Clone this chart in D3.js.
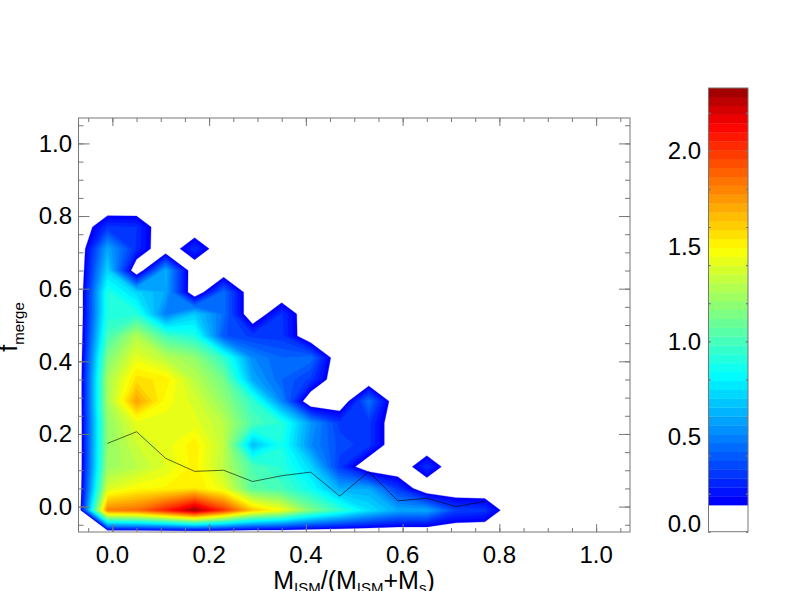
<!DOCTYPE html>
<html><head><meta charset="utf-8">
<script src="https://cdn.jsdelivr.net/npm/d3@7"></script>
<style>
html,body{margin:0;padding:0;background:#fff;overflow:hidden}
svg{display:block}
text{font-family:"Liberation Sans",Arial,sans-serif;fill:#000}
</style></head><body>
<svg id="c" width="786" height="591"></svg>
<script>
// grid of the density map: rows run from y=-0.07 upward, columns from x=-0.07 rightward, step 0.06
const gridX = [-0.07,-0.01,0.05,0.11,0.17,0.23,0.29,0.35,0.41,0.47,0.53,0.59,0.65,0.71,0.77,0.83,0.89,0.95,1.01,1.07];
const gridY = [-0.07,-0.01,0.05,0.11,0.17,0.23,0.29,0.35,0.41,0.47,0.53,0.59,0.65,0.71,0.77,0.83,0.89,0.95,1.01,1.07];
const density = [
[0,0,0,0,0,0,0,0,0,0,0,0,0,0,0,0,0,0,0,0],
[0,1.8,1.85,2.05,2.32,2.0,1.62,1.45,1.15,0.95,0.75,0.6,0.6,0.33,0.3,0,0,0,0,0],
[0,1.38,1.48,1.5,1.54,1.42,1.05,1.0,0.85,0.6,0.6,0.3,0,0,0,0,0,0,0,0],
[0,1.22,1.3,1.4,1.51,1.3,1.02,0.92,0.72,0.3,0,0,0.28,0,0,0,0,0,0,0],
[0,1.2,1.35,1.42,1.52,1.32,0.65,0.88,0.52,0.35,0.3,0,0,0,0,0,0,0,0,0],
[0,1.2,1.42,1.42,1.42,1.3,1.02,0.92,0.56,0.31,0.3,0,0,0,0,0,0,0,0,0],
[0,1.25,1.72,1.47,1.38,1.2,0.95,0.51,0,0,0.46,0,0,0,0,0,0,0,0,0],
[0,1.25,1.56,1.52,1.3,1.12,0.6,0.42,0.31,0,0,0,0,0,0,0,0,0,0,0],
[0,1.15,1.42,1.3,1.2,0.95,0.52,0.42,0.45,0,0,0,0,0,0,0,0,0,0,0],
[0,1.0,1.28,1.0,0.9,0.38,0.31,0.3,0,0,0,0,0,0,0,0,0,0,0,0],
[0,0.9,0.92,0.48,0.69,0.45,0,0.29,0,0,0,0,0,0,0,0,0,0,0,0],
[0,0.9,0.72,0.6,0,0.45,0,0,0,0,0,0,0,0,0,0,0,0,0,0],
[0,0.72,0,0.62,0,0,0,0,0,0,0,0,0,0,0,0,0,0,0,0],
[0,0.6,0.27,0,0.28,0,0,0,0,0,0,0,0,0,0,0,0,0,0,0],
[0,0.29,0.28,0,0,0,0,0,0,0,0,0,0,0,0,0,0,0,0,0],
[0,0,0,0,0,0,0,0,0,0,0,0,0,0,0,0,0,0,0,0],
[0,0,0,0,0,0,0,0,0,0,0,0,0,0,0,0,0,0,0,0],
[0,0,0,0,0,0,0,0,0,0,0,0,0,0,0,0,0,0,0,0],
[0,0,0,0,0,0,0,0,0,0,0,0,0,0,0,0,0,0,0,0],
[0,0,0,0,0,0,0,0,0,0,0,0,0,0,0,0,0,0,0,0]
];
// median line
const medianX = [-0.01,0.05,0.11,0.17,0.23,0.29,0.35,0.41,0.47,0.53,0.59,0.65,0.71,0.77];
const medianY = [0.174,0.206,0.133,0.097,0.1,0.069,0.085,0.095,0.029,0.096,0.016,0.023,0.0,0.014];
const axisTicks = [0,0.2,0.4,0.6,0.8,1.0];
const minorTicks = [-0.05,0,0.05,0.1,0.15,0.2,0.25,0.3,0.35,0.4,0.45,0.5,0.55,0.6,0.65,0.7,0.75,0.8,0.85,0.9,0.95,1.0,1.05];
const barTicks = [0,0.5,1.0,1.5,2.0];
const barMinor = [0,0.2,0.4,0.6,0.8,1.0,1.2,1.4,1.6,1.8,2.0,2.2];
const colorStops = [0.14,0.8,1.46,2.11,2.33];
const colorValues = ["#0000ff","#00ffff","#ffff00","#ff0000","#8c0000"];
const nLevels = 50, zMax = 2.33, firstLevel = 3;

const svg = d3.select("#c");
const L=78.5,R=630,T=118,B=532;
const x = d3.scaleLinear([-0.07,1.07],[L,R]);
const y = d3.scaleLinear([-0.07,1.07],[B,T]);
const col = d3.scaleLinear(colorStops,colorValues).clamp(true);
const levels = d3.range(firstLevel,nLevels).map(i=>i*zMax/nLevels);
const flat = density.flat();
const contours = d3.contours().size([gridX.length,gridY.length]).thresholds(levels)(flat);
const dx = gridX[1]-gridX[0];
const proj = d3.geoTransform({point(px,py){
  this.stream.point(x(gridX[0]+(px-0.5)*dx), y(gridY[0]+(py-0.5)*dx));
}});
const path = d3.geoPath(proj);
svg.append("g").selectAll("path").data(contours).join("path")
  .attr("d",path).attr("fill",d=>col(d.value)).attr("stroke",d=>col(d.value)).attr("stroke-width",0.3);

const line = d3.line().x((d,i)=>x(medianX[i])).y(d=>y(d));
svg.append("path").attr("d",line(medianY)).attr("fill","none").attr("stroke","#000").attr("stroke-width",0.6);

// box and ticks
const AX="#777";
function styleAxis(g){ g.selectAll("path,line").attr("stroke",AX).attr("stroke-width",1); g.select(".domain").remove(); }
function ax(gen,scale,t,minor,maj,min,tx,ty){
  svg.append("g").attr("transform",`translate(${tx},${ty})`).call(gen(scale).tickValues(minor).tickSize(min).tickFormat("")).call(styleAxis);
  svg.append("g").attr("transform",`translate(${tx},${ty})`).call(gen(scale).tickValues(t).tickSize(maj).tickFormat("")).call(styleAxis);
}
ax(d3.axisTop,x,axisTicks,minorTicks,8,4,0,B);
ax(d3.axisBottom,x,axisTicks,minorTicks,8,4,0,T);
ax(d3.axisRight,y,axisTicks,minorTicks,11,5,L,0);
ax(d3.axisLeft,y,axisTicks,minorTicks,11,5,R,0);
svg.append("rect").attr("x",L).attr("y",T).attr("width",R-L).attr("height",B-T).attr("fill","none").attr("stroke",AX).attr("stroke-width",1);

const FS=24;
svg.append("g").selectAll("text").data(axisTicks).join("text")
  .attr("x",d=>x(d)).attr("y",563).attr("text-anchor","middle").attr("font-size",FS).text(d=>d.toFixed(1));
svg.append("g").selectAll("text").data(axisTicks).join("text")
  .attr("x",72).attr("y",d=>y(d)+8.3).attr("text-anchor","end").attr("font-size",FS).text(d=>d.toFixed(1));

// axis titles
const TS=25, SS=15;
const xt=svg.append("text").attr("x",354).attr("y",589).attr("text-anchor","middle").attr("font-size",TS);
xt.append("tspan").text("M");
xt.append("tspan").attr("font-size",SS).attr("dy",4).text("ISM");
xt.append("tspan").attr("dy",-4).text("/(M");
xt.append("tspan").attr("font-size",SS).attr("dy",4).text("ISM");
xt.append("tspan").attr("dy",-4).text("+M");
xt.append("tspan").attr("font-size",SS).attr("dy",4).text("s");
xt.append("tspan").attr("dy",-4).text(")");
const yt=svg.append("text").attr("transform","translate(17,327) rotate(-90)").attr("text-anchor","middle").attr("font-size",TS);
yt.append("tspan").text("f");
yt.append("tspan").attr("font-size",SS).attr("dy",7).text("merge");

// colour bar
const bL=708.5,bR=748,bT=88,bB=531.7;
const bs=d3.scaleLinear([0,zMax],[bB,bT]);
const bands=d3.range(firstLevel,nLevels).map(i=>i*zMax/nLevels);
svg.append("g").selectAll("rect").data(bands).join("rect")
  .attr("x",bL).attr("width",bR-bL)
  .attr("y",d=>bs(d+zMax/nLevels)).attr("height",d=>bs(d)-bs(d+zMax/nLevels)+0.3)
  .attr("fill",d=>col(d));
ax(d3.axisRight,bs,barMinor,barMinor,2,2,bL,0);
ax(d3.axisLeft,bs,barMinor,barMinor,2,2,bR,0);
svg.append("rect").attr("x",bL).attr("y",bT).attr("width",bR-bL).attr("height",bB-bT).attr("fill","none").attr("stroke",AX).attr("stroke-width",1);
svg.append("g").selectAll("text").data(barTicks).join("text")
  .attr("x",701).attr("y",d=>d===0?bB:bs(d)+8.5).attr("text-anchor","end").attr("font-size",FS).text(d=>d.toFixed(1));
</script>
</body></html>
